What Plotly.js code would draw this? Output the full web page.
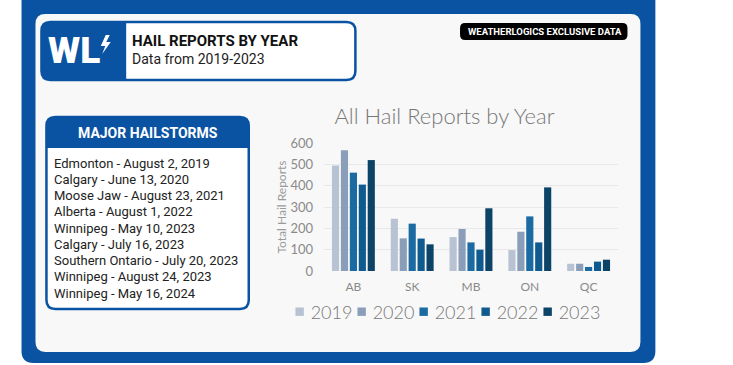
<!DOCTYPE html>
<html>
<head>
<meta charset="utf-8">
<script src="https://cdn.plot.ly/plotly-3.0.1.min.js"></script>
<style>
html,body{margin:0;padding:0;background:#fff;}
#chart{width:733px;height:365px;}
</style>
</head>
<body>
<div id="chart"></div>
<script>
// ---- data ----
var provinces = ["AB", "SK", "MB", "ON", "QC"];
var years = ["2019", "2020", "2021", "2022", "2023"];
var reports2019 = [495, 245, 159, 98, 34];
var reports2020 = [566, 153, 197, 184, 34];
var reports2021 = [461, 222, 134, 256, 19];
var reports2022 = [405, 152, 100, 134, 44];
var reports2023 = [520, 125, 294, 392, 53];
var yearColors = ["#b7c3d3", "#8b9eb9", "#1b6aa1", "#0f5a8f", "#0c4468"];
var storms = [
  "Edmonton - August 2, 2019",
  "Calgary - June 13, 2020",
  "Moose Jaw - August 23, 2021",
  "Alberta - August 1, 2022",
  "Winnipeg - May 10, 2023",
  "Calgary - July 16, 2023",
  "Southern Ontario - July 20, 2023",
  "Winnipeg - August 24, 2023",
  "Winnipeg - May 16, 2024"
];

// ---- geometry helpers (pixel -> paper) ----
var L = 323.5, R = 618.5, T = 143, B = 271;
var W = R - L, H = B - T;
function px(x){ return (x - L) / W; }
function py(y){ return (B - y) / H; }
function P(x, y){ return px(x).toFixed(5) + "," + py(y).toFixed(5); }
function rrect(x0, y0, x1, y1, r, tl, tr, br, bl){
  var a = tl ? r : 0, b = tr ? r : 0, c = br ? r : 0, d = bl ? r : 0;
  return "M" + P(x0 + a, y0) + " L" + P(x1 - b, y0) + " Q" + P(x1, y0) + " " + P(x1, y0 + b) +
    " L" + P(x1, y1 - c) + " Q" + P(x1, y1) + " " + P(x1 - c, y1) +
    " L" + P(x0 + d, y1) + " Q" + P(x0, y1) + " " + P(x0, y1 - d) +
    " L" + P(x0, y0 + a) + " Q" + P(x0, y0) + " " + P(x0 + a, y0) + " Z";
}
var BLUE = "#0a53a3";
function pathShape(path, fill, line, lw){
  return {type: "path", xref: "paper", yref: "paper", layer: "below", path: path,
    fillcolor: fill, line: {color: line || fill, width: lw || 0}};
}

var shapes = [
  pathShape(rrect(20, -14, 656, 363, 12, true, true, true, true), BLUE),
  pathShape(rrect(34, 14, 641, 352, 10, true, true, true, true), "#f8f8f8"),
  pathShape(rrect(40, 22, 355, 80, 9, true, true, true, true), "#ffffff", BLUE, 2.5),
  pathShape(rrect(40, 22, 125, 80, 9, true, false, false, true), BLUE),
  pathShape("M" + P(104.5, 35) + " L" + P(99.5, 46) + " L" + P(104, 46) + " L" + P(101, 54) +
            " L" + P(109.5, 42) + " L" + P(105, 42) + " L" + P(108.5, 35) + " Z", "#ffffff"),
  pathShape(rrect(460, 23, 628, 40, 5, true, true, true, true), "#000000"),
  pathShape(rrect(45, 117, 248, 309, 9, true, true, true, true), "#ffffff", BLUE, 2.5),
  pathShape(rrect(45, 117, 248, 148, 9, true, true, false, false), BLUE)
];

function ann(text, x, y, size, color, weight, family, xanchor){
  return {text: text, xref: "paper", yref: "paper", x: px(x), y: py(y),
    xanchor: xanchor || "left", yanchor: "middle", showarrow: false, borderpad: 0,
    font: {family: family || "Roboto", size: size, color: color, weight: weight || "normal"}};
}

var annotations = [
  ann("WL", 46, 50, 37, "#ffffff", 900),
  ann("HAIL REPORTS BY YEAR", 130, 41, 15, "#111111", "bold"),
  ann("Data from 2019-2023", 130, 59, 14, "#222222"),
  ann("WEATHERLOGICS EXCLUSIVE DATA", 545, 31.5, 9.5, "#ffffff", "bold", "Roboto", "center"),
  ann("MAJOR HAILSTORMS", 146.5, 132.5, 14, "#ffffff", "bold", "Roboto", "center")
];
storms.forEach(function(s, i){
  annotations.push(ann(s, 52, 163 + i * 16.25, 13, "#222222"));
});

var yearData = [reports2019, reports2020, reports2021, reports2022, reports2023];
var traces = years.map(function(yr, i){
  return {type: "bar", name: yr, x: provinces, y: yearData[i],
    marker: {color: yearColors[i]}, hoverinfo: "x+y+name"};
});

var layout = {
  width: 733, height: 365,
  margin: {l: L, r: 733 - R, t: T, b: 365 - B, pad: 0},
  paper_bgcolor: "#ffffff",
  plot_bgcolor: "rgba(0,0,0,0)",
  barmode: "group", bargap: 0.24, bargroupgap: 0.2,
  title: {text: "All Hail Reports by Year", x: 444.5 / 733, xanchor: "center",
    y: 1 - 116 / 365, yanchor: "middle",
    font: {family: "Lato", size: 22, color: "#777777", weight: 300}},
  xaxis: {tickfont: {family: "Lato", size: 12, color: "#8a8a8a"}, showgrid: false,
    showline: false, zeroline: false, ticklabelstandoff: 7},
  yaxis: {range: [0, 600], dtick: 100, gridcolor: "#e8e8e8", gridwidth: 1,
    zeroline: false, showline: false, ticklabelstandoff: 10,
    tickfont: {family: "Lato", size: 13, color: "#8a8a8a"},
    title: {text: "Total Hail Reports", standoff: 1,
      font: {family: "Lato", size: 12, color: "#9a9a9a"}}},
  showlegend: true,
  legend: {orientation: "h", x: px(279), xanchor: "left", y: py(312), yanchor: "middle",
    entrywidth: 17, entrywidthmode: "pixels",
    font: {family: "Lato", size: 18, color: "#777777", weight: 300}, bgcolor: "rgba(0,0,0,0)",
    traceorder: "normal"},
  shapes: shapes,
  annotations: annotations
};

Plotly.newPlot("chart", traces, layout, {displayModeBar: false, staticPlot: true}).then(function(gd){
  // tighten legend entries: smaller swatch, text closer to swatch
  gd.querySelectorAll(".legend .traces").forEach(function(g){
    g.querySelectorAll(".legendpoints path").forEach(function(p){
      p.setAttribute("transform", "translate(20,0) scale(0.7)");
    });
    var t = g.querySelector(".legendtext");
    if (t) t.setAttribute("x", 31);
  });
  gd.querySelectorAll(".legend .scrollbox").forEach(function(s){
    s.removeAttribute("clip-path");
  });
  gd.querySelectorAll(".legend").forEach(function(s){
    s.removeAttribute("clip-path");
  });
});
</script>
</body>
</html>
